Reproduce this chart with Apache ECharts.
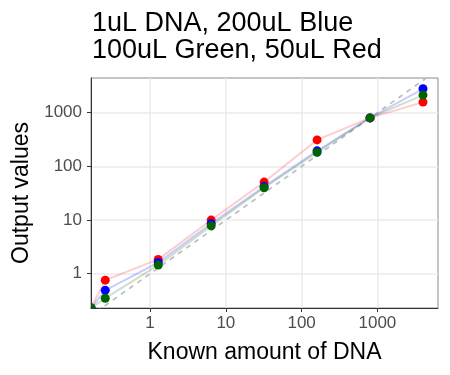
<!DOCTYPE html>
<html>
<head>
<meta charset="utf-8">
<script src="https://cdn.jsdelivr.net/npm/echarts@6/dist/echarts.min.js"></script>
<style>
html,body{margin:0;padding:0;background:#fff;}
#chart{width:450px;height:375px;}
</style>
</head>
<body>
<div id="chart"></div>
<script>
// Known DNA amounts (0 = blank, drawn at the panel edge as on a log scale)
const known = [0, 0.256, 1.28, 6.4, 32, 160, 800, 4000];
const redValues = [0, 0.76, 1.85, 10, 51, 311, 800, 1575];
const blueValues = [0, 0.49, 1.62, 8.6, 42, 195, 800, 2790];
const greenValues = [0, 0.35, 1.45, 7.8, 40, 182, 800, 2130];
const tickValues = [1, 10, 100, 1000];
const titleText = '1uL DNA, 200uL Blue\n100uL Green, 50uL Red';
const xTitle = 'Known amount of DNA';
const yTitle = 'Output values';

const xMin = 0.166, xMax = 6310, yMin = 0.23, yMax = 4430;
const cx = v => v > 0 ? v : xMin;
const cy = v => v > 0 ? v : yMin;

const seriesDefs = [
  {name: 'Red', values: redValues, color: '#ff0000', line: 'rgba(255,0,0,0.2)'},
  {name: 'Blue', values: blueValues, color: '#0000ff', line: 'rgba(0,0,255,0.2)'},
  {name: 'Green', values: greenValues, color: '#006400', line: 'rgba(0,100,0,0.2)'}
];

const series = [];
series.push({
  type: 'line',
  data: [[0.01, 0.01], [100000, 100000]],
  showSymbol: false,
  silent: true,
  clip: true,
  z: 1,
  lineStyle: {color: '#bdbdbd', width: 1.7, type: [5, 5]}
});
seriesDefs.forEach(s => {
  series.push({
    type: 'line',
    data: known.map((x, i) => [cx(x), cy(s.values[i])]),
    showSymbol: false,
    clip: true,
    z: 2,
    lineStyle: {color: s.line, width: 2}
  });
});
seriesDefs.forEach(s => {
  series.push({
    type: 'custom',
    clip: true,
    z: 3,
    data: known.map((x, i) => [cx(x), cy(s.values[i])]),
    renderItem: function (params, api) {
      const p = api.coord([api.value(0), api.value(1)]);
      return {type: 'circle', shape: {cx: p[0], cy: p[1], r: 4.5}, style: {fill: s.color}};
    }
  });
});

const axisCommon = {
  type: 'log',
  logBase: 10,
  axisLine: {show: true, lineStyle: {color: '#333', width: 1}},
  axisTick: {show: true, length: 4, lineStyle: {color: '#333', width: 1}, customValues: tickValues},
  axisLabel: {color: '#4d4d4d', fontSize: 17, fontFamily: 'Liberation Sans', customValues: tickValues,
    formatter: v => String(Math.round(v))},
  splitLine: {show: true, lineStyle: {color: '#ebebeb', width: 1.5}},
  minorSplitLine: {show: false},
  nameLocation: 'middle',
  nameTextStyle: {color: '#000', fontSize: 23, fontFamily: 'Liberation Sans'}
};

const chart = echarts.init(document.getElementById('chart'), null, {renderer: 'canvas'});
chart.setOption({
  animation: false,
  backgroundColor: '#fff',
  title: {
    text: titleText,
    left: 87,
    top: 5,
    textStyle: {color: '#000', fontSize: 27, fontWeight: 'normal', fontFamily: 'Liberation Sans', lineHeight: 27}
  },
  grid: {left: 91, right: 12, top: 78, bottom: 67, show: true, borderColor: '#8a8a8a', borderWidth: 1, backgroundColor: '#fff'},
  xAxis: Object.assign({}, axisCommon, {
    min: xMin, max: xMax, name: xTitle, nameGap: 33,
    axisLabel: Object.assign({}, axisCommon.axisLabel, {margin: 7})
  }),
  yAxis: Object.assign({}, axisCommon, {
    min: yMin, max: yMax, name: yTitle, nameGap: 58,
    axisLabel: Object.assign({}, axisCommon.axisLabel, {margin: 9})
  }),
  series: series
});
</script>
</body>
</html>
